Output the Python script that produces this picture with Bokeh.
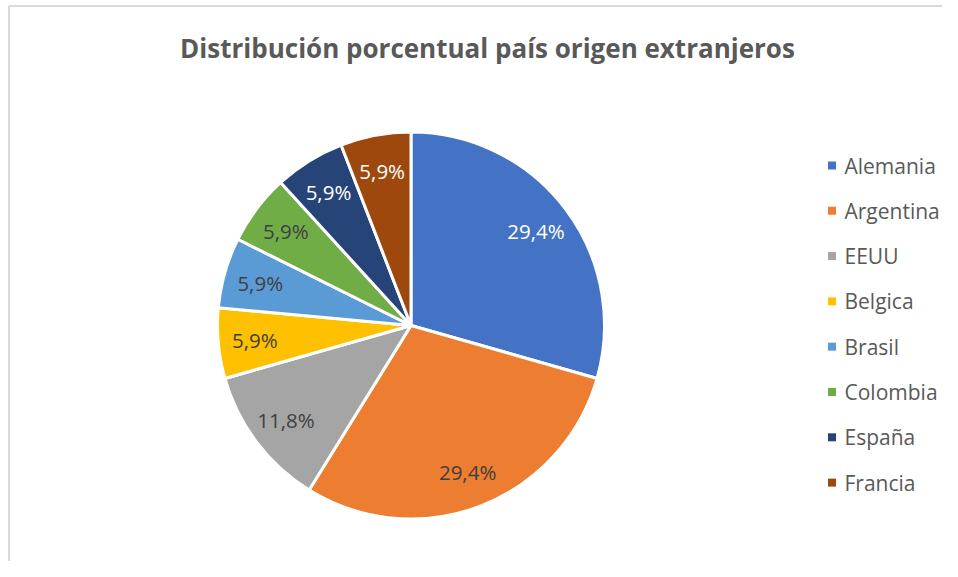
import math
from bokeh.plotting import figure
from bokeh.models import Range1d, ColumnDataSource
from bokeh.core.properties import value
from bokeh.embed import file_html
from bokeh.resources import INLINE

# ---- data ----
countries = ["Alemania", "Argentina", "EEUU", "Belgica", "Brasil", "Colombia", "España", "Francia"]
counts = [5, 5, 2, 1, 1, 1, 1, 1]
colors = ["#4472C4", "#ED7D31", "#A5A5A5", "#FFC000", "#5B9BD5", "#70AD47", "#264478", "#9E480E"]
label_colors = ["#FFFFFF", "#404040", "#404040", "#404040", "#404040", "#404040", "#FFFFFF", "#FFFFFF"]
title_text = "Distribución porcentual país origen extranjeros"

W, H = 942, 561
FONT = "Open Sans"

p = figure(width=W, height=H, output_backend="svg", toolbar_location=None,
           x_range=Range1d(0, W), y_range=Range1d(0, H), min_border=0,
           background_fill_color="white", border_fill_color="white")
p.axis.visible = False
p.grid.visible = False
p.outline_line_color = None

# chart-area border (top and left edges visible in the reference)
p.line([8.5, W], [555.5, 555.5], line_color="#D9D9D9", line_width=2)
p.line([8.5, 8.5], [0, 555.5], line_color="#D9D9D9", line_width=2)

# ---- pie ----
cx, cy, r = 410.5, 236, 193.5
total = sum(counts)
starts, ends, lx, ly, labels = [], [], [], [], []
cum = 0
for c in counts:
    a0 = math.pi / 2 - 2 * math.pi * cum / total
    a1 = math.pi / 2 - 2 * math.pi * (cum + c) / total
    starts.append(a0)
    ends.append(a1)
    mid = (a0 + a1) / 2
    lx.append(cx + 0.81 * r * math.cos(mid))
    ly.append(cy + 0.81 * r * math.sin(mid))
    labels.append(f"{100 * c / total:.1f}%".replace(".", ","))
    cum += c

src = ColumnDataSource(dict(start=starts, end=ends, color=colors, lx=lx, ly=ly,
                            label=labels, lcolor=label_colors, name=countries))
p.wedge(x=cx, y=cy, radius=r, start_angle="start", end_angle="end", direction="clock",
        fill_color="color", line_color="white", line_width=3, source=src)
p.text(x="lx", y="ly", text="label", text_color="lcolor", text_font=value(FONT),
       text_font_size="20.5px", text_align="center", text_baseline="middle", source=src)

# ---- legend ----
leg_x, leg_top, leg_step = 831.5, 396, 45.3
leg_y = [leg_top - i * leg_step for i in range(len(countries))]
lsrc = ColumnDataSource(dict(x=[leg_x] * len(countries), tx=[leg_x + 12.5] * len(countries),
                             y=leg_y, color=colors, name=countries))
p.scatter(x="x", y="y", marker="square", size=8, fill_color="color", line_color=None, source=lsrc)
p.text(x="tx", y="y", text="name", text_color="#595959", text_font=value(FONT),
       text_font_size="21px", text_align="left", text_baseline="middle", source=lsrc)

# ---- title ----
p.text(x=[487], y=[514], text=[title_text], text_color="#595959", text_font=value(FONT),
       text_font_style="bold", text_font_size="26px", text_align="center", text_baseline="middle")

open("out.html", "w").write(file_html(p, INLINE))
